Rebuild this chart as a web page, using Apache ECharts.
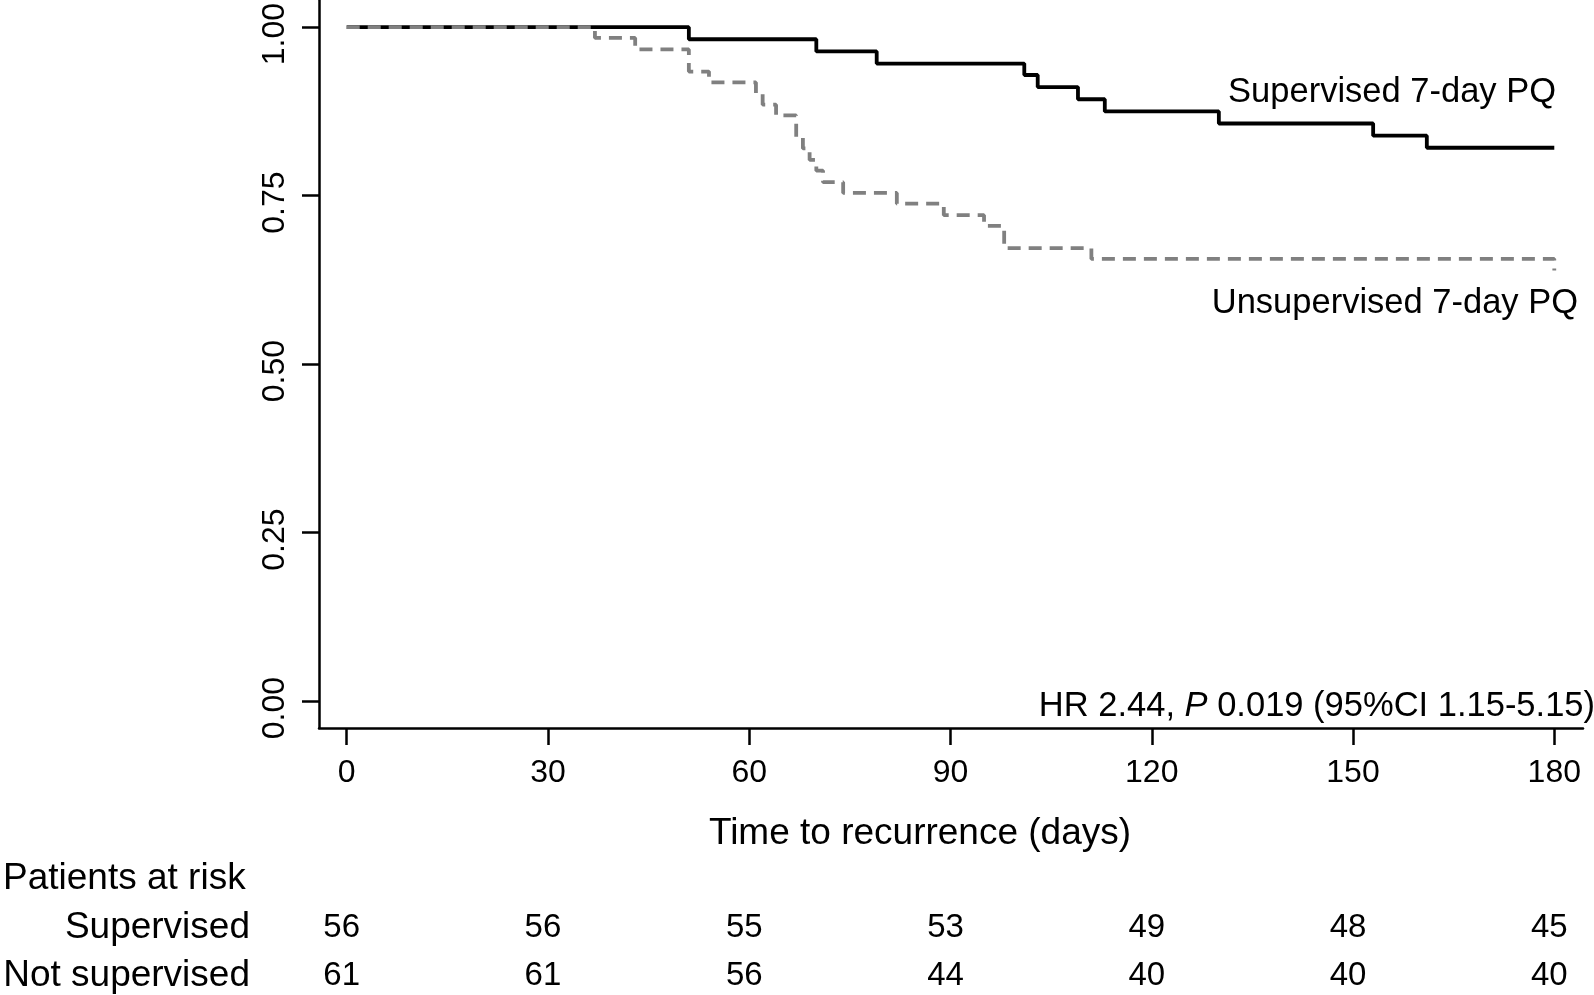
<!DOCTYPE html>
<html><head><meta charset="utf-8">
<script src="https://cdn.jsdelivr.net/npm/echarts@6/dist/echarts.min.js"></script>
<style>html,body{margin:0;padding:0;background:#fff}#c{width:1594px;height:995px}</style>
</head><body><div id="c"></div>
<script>
// ---- data ----
const xTicks = [0, 30, 60, 90, 120, 150, 180];
const yTicks = [0, 0.25, 0.5, 0.75, 1];
const supTimes = [0, 51, 70, 79, 101, 103, 109, 113, 130, 153, 161, 180];
const supSurv  = [1, 0.982, 0.964, 0.946, 0.929, 0.911, 0.893, 0.875, 0.857, 0.839, 0.821, 0.821];
const unsTimes = [0, 37, 43, 51, 54, 61, 62, 64, 67, 68, 69, 70, 71, 74, 82, 89, 95, 98, 111, 180];
const unsSurv  = [1, 0.984, 0.967, 0.934, 0.918, 0.902, 0.885, 0.869, 0.836, 0.820, 0.803, 0.787, 0.770, 0.754, 0.738, 0.721, 0.705, 0.672, 0.656, 0.639];
const riskSup = [56, 56, 55, 53, 49, 48, 45];
const riskUns = [61, 61, 56, 44, 40, 40, 40];
const seriesNames = ['Supervised 7-day PQ', 'Unsupervised 7-day PQ'];
const riskLabels = ['Supervised', 'Not supervised'];
const riskTitle = 'Patients at risk';
const xTitle = 'Time to recurrence (days)';
const hrText = 'HR 2.44, {i|P} 0.019 (95%CI 1.15-5.15)';

const FONT = '"Liberation Sans", Arial, Helvetica, sans-serif';
const chart = echarts.init(document.getElementById('c'), null, {renderer: 'canvas'});

function pairs(ts, vs) { return ts.map((t, i) => [t, vs[i]]); }

chart.setOption({
  animation: false,
  backgroundColor: '#ffffff',
  grid: {left: 319, right: 11, top: 0, bottom: 267, containLabel: false},
  xAxis: {
    type: 'value', min: -4.13, max: 184.28,
    axisLine: {show: true, onZero: false, lineStyle: {color: '#000', width: 2.5}},
    axisTick: {show: true, customValues: xTicks, length: 17, lineStyle: {color: '#000', width: 2.5}},
    axisLabel: {show: true, customValues: xTicks, margin: 29, color: '#000', fontSize: 32, fontFamily: FONT},
    splitLine: {show: false}
  },
  yAxis: {
    type: 'value', min: -0.04, max: 1.04,
    axisLine: {show: true, onZero: false, lineStyle: {color: '#000', width: 2.5}},
    axisTick: {show: true, customValues: yTicks, length: 17, lineStyle: {color: '#000', width: 2.5}},
    axisLabel: {show: true, customValues: yTicks, rotate: 90, margin: 28, padding: [0, 14, 0, 0],
      color: '#000', fontSize: 32, fontFamily: FONT, formatter: v => v.toFixed(2)},
    splitLine: {show: false}
  },
  series: [
    {name: seriesNames[0], type: 'line', step: 'end', showSymbol: false, data: pairs(supTimes, supSurv),
     lineStyle: {color: '#000000', width: 3.8}, z: 2},
    {name: seriesNames[1], type: 'line', step: 'end', showSymbol: false, data: pairs(unsTimes, unsSurv),
     lineStyle: {color: '#808080', width: 3.8, type: [13, 8]}, z: 3}
  ]
});

const txt = (text, x, y, size, align, extra) => Object.assign({
  type: 'text', x: x, y: y, silent: true,
  style: Object.assign({text: text, fill: '#000', fontSize: size, fontFamily: FONT,
    textAlign: align, textVerticalAlign: 'middle'}, extra || {})
});

const g = [];
g.push(txt(seriesNames[0], 1556, 92, 34.5, 'right'));
g.push(txt(seriesNames[1], 1578, 303, 34.5, 'right'));
g.push(txt(hrText, 1595, 706, 34.5, 'right', {rich: {i: {fontStyle: 'italic', fontSize: 34.5, fontFamily: FONT, fill: '#000'}}}));
g.push(txt(xTitle, 920, 834, 37, 'center'));
g.push(txt(riskTitle, 3, 879, 37, 'left'));
g.push(txt(riskLabels[0], 250, 928, 37, 'right'));
g.push(txt(riskLabels[1], 250, 976, 37, 'right'));
xTicks.forEach((t, i) => {
  const px = chart.convertToPixel({xAxisIndex: 0}, t) - 5;
  g.push(txt(String(riskSup[i]), px, 928, 33, 'center'));
  g.push(txt(String(riskUns[i]), px, 976, 33, 'center'));
});
chart.setOption({graphic: g});
</script>
</body></html>
